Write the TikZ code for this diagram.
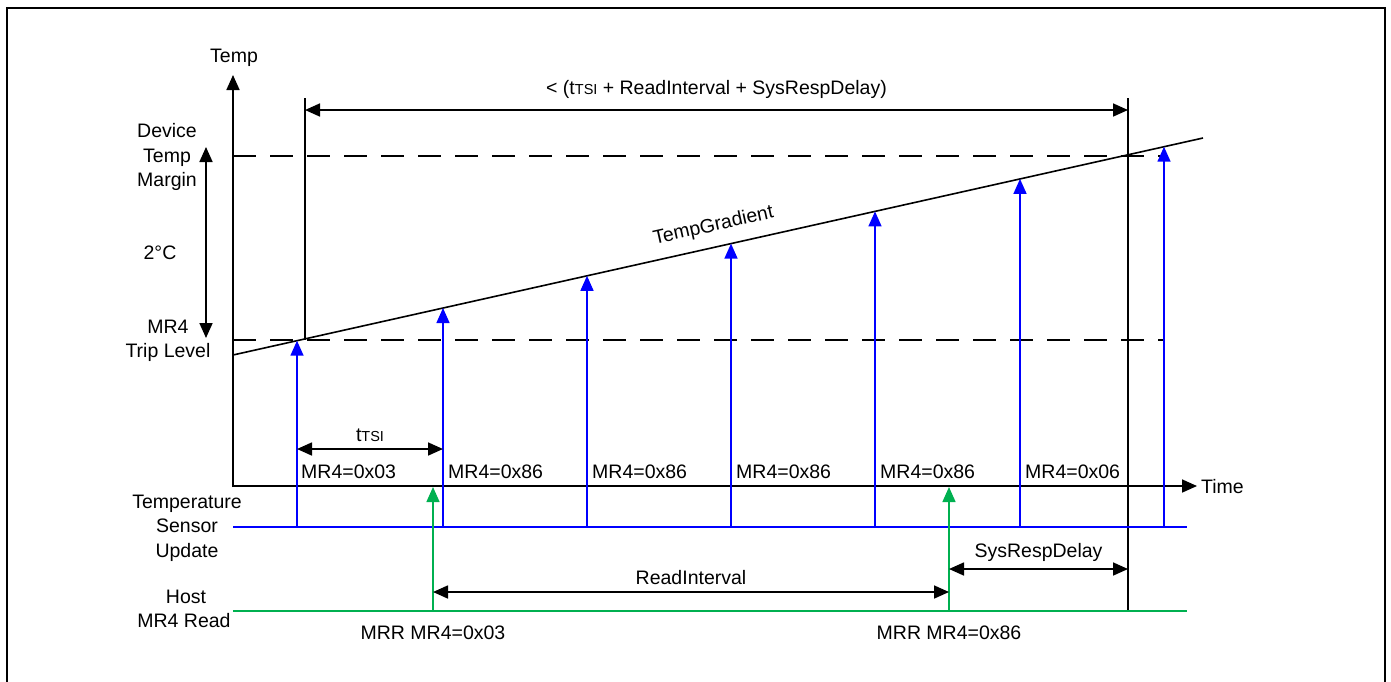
\documentclass[tikz,border=0pt]{standalone}
\usepackage{fontspec}
\setmainfont{Liberation Sans}
\usetikzlibrary{arrows.meta}
\definecolor{tsblue}{RGB}{0,0,255}
\definecolor{hgreen}{RGB}{0,176,80}
\newcommand{\tsisub}{{\fontsize{14.5}{16}\selectfont TSI}}
\tikzset{
  tip/.style={-{Triangle[length=15pt,width=13pt]}},
  dtip/.style={{Triangle[length=15pt,width=13pt]}-{Triangle[length=15pt,width=13pt]}},
  blk/.style={line width=1.7pt,black},
  dim/.style={line width=1.7pt,black,dtip},
  bluearr/.style={line width=1.5pt,tsblue,tip},
  greenarr/.style={line width=1.5pt,hgreen,tip},
  dashln/.style={line width=1.4pt,dash pattern=on 23pt off 14pt},
  lbl/.style={font=\fontsize{19.5}{24.5}\selectfont,inner sep=0pt},
  mr/.style={lbl,anchor=west},
}
\begin{document}
\begin{tikzpicture}[x=1pt,y=-1pt]
\useasboundingbox (0,0) rectangle (1391,681);
% frame
\draw[line width=2pt] (7,684) -- (7,8) -- (1385,8) -- (1385,684);
% axes
\coordinate (o) at (233,487);
\coordinate (ytop) at (233,75);
\coordinate (xend) at (1197,486);
\draw[blk,tip] (o) -- (ytop);
\draw[blk,tip] (233,486) -- (xend);
\node[lbl] (temp) at (234,58) {Temp};
\node[lbl,anchor=west] (time) at (1201,487) {Time};
% dashed levels
\draw[dashln] (233,156) -- (1165,156);
\draw[dashln] (233,340) -- (1165,340);
% gradient
\coordinate (ga) at (233,355);
\coordinate (gb) at (1203,138);
\draw[line width=1.6pt] (ga) -- (gb) node[pos=0.5,lbl,above=11pt,sloped] (tg) {TempGradient};
% left labels
\node[lbl,align=center] (dtm) at (167,157) {Device\\Temp\\Margin};
\node[lbl] (twoc) at (160,253) {2°C};
\node[lbl,align=center] (trip) at (168,341) {MR4\\Trip Level};
\coordinate (da) at (206,147);
\coordinate (db) at (206,338);
\draw[dim] (da) -- (db);
% vertical black markers
\coordinate (v1t) at (305,98);
\coordinate (v1b) at (305,340);
\coordinate (v2t) at (1128,98);
\coordinate (v2b) at (1128,611);
\draw[blk] (v1t) -- (v1b);
\draw[blk] (v2t) -- (v2b);
\draw[dim] (305,110) -- (1128,110) node[midway,lbl,above=11pt] (tot) {< (t\tsisub{} + ReadInterval + SysRespDelay)};
% sensor line and host line
\coordinate (sl) at (233,527);
\coordinate (sr) at (1187,527);
\coordinate (hl) at (233,611);
\coordinate (hr) at (1187,611);
\draw[line width=1.5pt,tsblue] (sl) -- (sr);
\draw[line width=1.5pt,hgreen] (hl) -- (hr);
\node[lbl,align=center] (tsu) at (187,528) {Temperature\\Sensor\\Update};
\node[lbl] (host) at (186,597) {Host};
\node[lbl] (mrread) at (184,621) {MR4 Read};
% blue arrows
\foreach \i/\x/\y in {1/297/340.7,2/443/308.0,3/587/275.8,4/731/243.6,5/875/211.4,6/1020/178.9,7/1164/146.7}{
  \coordinate (s\i) at (\x,527);
  \coordinate (g\i) at (\x,\y);
  \draw[bluearr] (s\i) -- (g\i);
}
% MR4 labels
\node[mr] (m1) at (301,472) {MR4=0x03};
\node[mr] (m2) at (448,472) {MR4=0x86};
\node[mr] (m3) at (592,472) {MR4=0x86};
\node[mr] (m4) at (736,472) {MR4=0x86};
\node[mr] (m5) at (880,472) {MR4=0x86};
\node[mr] (m6) at (1025,472) {MR4=0x06};
% tTSI
\draw[dim] (297,449) -- (443,449) node[midway,lbl,above=7pt] (tt) {t\tsisub};
% green arrows
\coordinate (h1) at (433,611);
\coordinate (h1t) at (433,487);
\coordinate (h2) at (949,611);
\coordinate (h2t) at (949,487);
\draw[greenarr] (h1) -- (h1t);
\draw[greenarr] (h2) -- (h2t);
\node[lbl] (mrr1) at (433,633) {MRR MR4=0x03};
\node[lbl] (mrr2) at (949,633) {MRR MR4=0x86};
% ReadInterval and SysRespDelay
\draw[dim] (433,592) -- (949,592) node[midway,lbl,above=6pt] (ri) {ReadInterval};
\draw[dim] (949,569) -- (1128,569) node[midway,lbl,above=7pt] (srd) {SysRespDelay};
\end{tikzpicture}
\end{document}
